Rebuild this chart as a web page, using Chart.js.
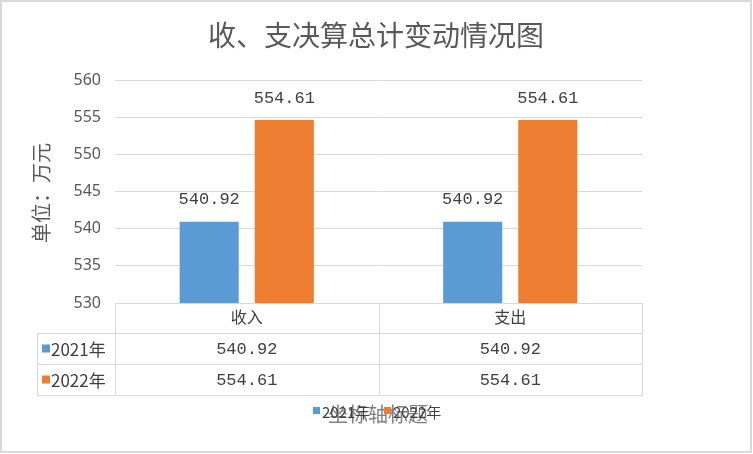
<!DOCTYPE html>
<html>
<head>
<meta charset="utf-8">
<script src="https://cdn.jsdelivr.net/npm/chart.js@4/dist/chart.umd.min.js"></script>
<style>
  html, body { margin: 0; padding: 0; background: #fff; }
  #wrap { width: 753px; height: 454px; }
</style>
</head>
<body>
<div id="wrap"><canvas id="c" width="753" height="454"></canvas></div>
<script>
const categories = ["收入", "支出"];
const seriesNames = ["2021年", "2022年"];
const values2021 = [540.92, 540.92];
const values2022 = [554.61, 554.61];
const yTicks = [530, 535, 540, 545, 550, 555, 560];

const chartTitle = "收、支决算总计变动情况图";
const yTitle = "单位：万元";
const xTitle = "坐标轴标题";

const blue = "#5B9BD5";
const orange = "#ED7D31";
const lineGray = "#d9d9d9";
const textGray = "#595959";
const cjk = "'Noto Sans CJK SC', sans-serif";
const mono = "'Liberation Mono', monospace";

const fmt = v => v.toFixed(2);

// title, data labels, data table, legend, outer border
const extras = {
  id: "extras",
  afterDatasetsDraw(chart) {
    const ctx = chart.ctx;
    ctx.save();
    ctx.font = "17px " + mono;
    ctx.fillStyle = "#404040";
    ctx.textAlign = "center";
    ctx.textBaseline = "middle";
    chart.data.datasets.forEach((ds, di) => {
      chart.getDatasetMeta(di).data.forEach((bar, i) => {
        ctx.fillText(fmt(ds.data[i]), bar.x, bar.y - 22);
      });
    });
    ctx.restore();
  },
  afterDraw(chart) {
    const ctx = chart.ctx;
    const x = chart.scales.x;
    const area = chart.chartArea;
    const rowH = 31;
    const headTop = area.bottom;
    const headBot = headTop + 30;
    const leftCol = 37;
    const half = (x.getPixelForValue(1) - x.getPixelForValue(0)) / 2;
    const bounds = [x.getPixelForValue(0) - half];
    categories.forEach((c, i) => bounds.push(x.getPixelForValue(i) + half));

    ctx.save();
    // title
    ctx.fillStyle = textGray;
    ctx.font = "28px " + cjk;
    ctx.textAlign = "center";
    ctx.textBaseline = "middle";
    ctx.fillText(chartTitle, 376, 35);

    // y axis title
    ctx.save();
    ctx.translate(41, 193);
    ctx.rotate(-Math.PI / 2);
    ctx.font = "20px " + cjk;
    ctx.fillText(yTitle, 0, 0);
    ctx.restore();

    // table lines
    ctx.strokeStyle = lineGray;
    ctx.lineWidth = 1;
    const tableBot = headBot + rowH * seriesNames.length;
    ctx.beginPath();
    bounds.forEach(b => {
      ctx.moveTo(Math.round(b) + 0.5, headTop);
      ctx.lineTo(Math.round(b) + 0.5, tableBot);
    });
    ctx.moveTo(leftCol + 0.5, headBot);
    ctx.lineTo(leftCol + 0.5, tableBot);
    for (let r = 0; r <= seriesNames.length; r++) {
      const yy = headBot + r * rowH + 0.5;
      ctx.moveTo(leftCol, yy);
      ctx.lineTo(bounds[bounds.length - 1] + 1, yy);
    }
    ctx.stroke();

    // table rows
    const colors = [blue, orange];
    chart.data.datasets.forEach((ds, di) => {
      const cy = headBot + di * rowH + rowH / 2 + 1;
      ctx.fillStyle = colors[di];
      ctx.fillRect(42, cy - 5, 8, 8);
      ctx.fillStyle = "#404040";
      ctx.textAlign = "left";
      ctx.font = "17px " + cjk;
      ctx.fillText(seriesNames[di], 51, cy);
      ctx.textAlign = "center";
      ctx.font = "17px " + mono;
      ds.data.forEach((v, i) => ctx.fillText(fmt(v), x.getPixelForValue(i), cy));
    });

    // x axis title overlapping legend
    const ly = 412;
    ctx.fillStyle = "#7f7f7f";
    ctx.font = "20px " + cjk;
    ctx.textAlign = "center";
    ctx.fillText(xTitle, 378, ly + 2);
    ctx.font = "15px " + cjk;
    ctx.textAlign = "left";
    const lx = [313, 384];
    seriesNames.forEach((n, i) => {
      ctx.fillStyle = colors[i];
      ctx.fillRect(lx[i], ly - 5, 7, 7);
      ctx.fillStyle = "#404040";
      ctx.fillText(n, lx[i] + 9, ly);
    });

    // outer border
    ctx.strokeStyle = lineGray;
    ctx.lineWidth = 2;
    ctx.strokeRect(1, 1, 750, 451);
    ctx.restore();
  }
};

new Chart(document.getElementById("c"), {
  type: "bar",
  data: {
    labels: categories,
    datasets: [
      { label: seriesNames[0], data: values2021, backgroundColor: blue },
      { label: seriesNames[1], data: values2022, backgroundColor: orange }
    ]
  },
  options: {
    responsive: false,
    animation: false,
    devicePixelRatio: 1,
    layout: { padding: { top: 80, left: 0, right: 111, bottom: 121 } },
    categoryPercentage: 0.57,
    barPercentage: 0.787,
    plugins: {
      legend: { display: false },
      title: { display: false },
      tooltip: { enabled: false }
    },
    scales: {
      x: {
        grid: { display: false, drawTicks: false },
        border: { color: lineGray },
        ticks: { color: "#404040", font: { family: cjk, size: 16 }, padding: 4 },
        afterFit(s) { s.height = 30; }
      },
      y: {
        min: 530,
        max: 560,
        afterBuildTicks(s) { s.ticks = yTicks.map(v => ({ value: v })); },
        grid: { color: lineGray, drawTicks: false },
        border: { display: false },
        ticks: { color: textGray, font: { family: "'Noto Sans', sans-serif", size: 16 }, padding: 14 },
        afterFit(s) { s.width = 115; }
      }
    }
  },
  plugins: [extras]
});
</script>
</body>
</html>
